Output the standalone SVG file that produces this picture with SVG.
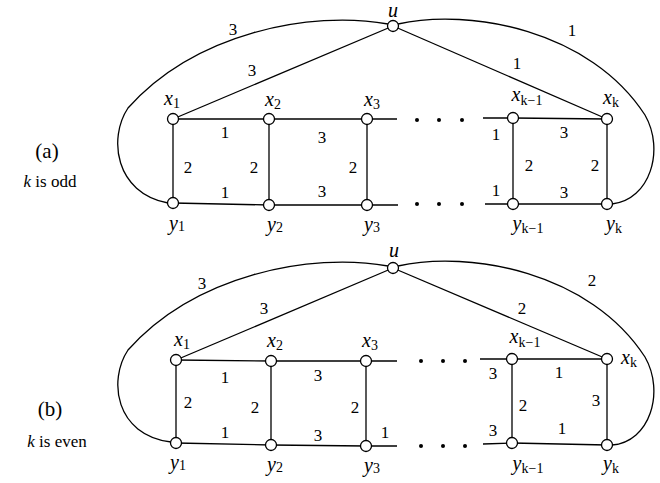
<svg xmlns="http://www.w3.org/2000/svg" width="660" height="483" viewBox="0 0 660 483" font-family="Liberation Serif, Times New Roman, serif">
<style>
.e{stroke:#000;stroke-width:1.3;fill:none}
.n{fill:#fff;stroke:#000;stroke-width:1.3}
.d{fill:#000}
.w{font-family:'Liberation Serif','Times New Roman',serif;font-size:17px;text-anchor:middle;fill:#000}
.v{font-family:'Liberation Serif','Times New Roman',serif;font-size:20px;font-style:italic;text-anchor:middle;fill:#000}
.s{font-size:14px;font-style:normal}
.c{font-family:'Liberation Serif','Times New Roman',serif;font-size:21px;text-anchor:middle;fill:#000}
.k{font-family:'Liberation Serif','Times New Roman',serif;font-size:17px;text-anchor:middle;fill:#000}
</style>
<rect width="660" height="483" fill="#fff"/>
<g id="connectors">
<path class="e" d="M388,24 C310,10 195,33 128,108 C108,138 115,193 168,203"/>
<path class="e" d="M398,24 C470,8 590,30 645,115 C665,150 650,200 612,204"/>
<line class="e" x1="393" y1="26" x2="173" y2="119"/>
<line class="e" x1="393" y1="26" x2="607" y2="119"/>
<polyline class="e" points="173,119 269,119 367,119 397,119"/>
<polyline class="e" points="483,118 513,118 607,119"/>
<polyline class="e" points="173,203 269,205 367,205 398,205"/>
<polyline class="e" points="485,204 513,204 607,204"/>
<line class="e" x1="173" y1="119" x2="173" y2="203"/>
<line class="e" x1="269" y1="119" x2="269" y2="205"/>
<line class="e" x1="367" y1="119" x2="367" y2="205"/>
<line class="e" x1="513" y1="118" x2="513" y2="204"/>
<line class="e" x1="607" y1="119" x2="607" y2="204"/>
<path class="e" d="M388,266 C310,252 195,275 128,350 C108,380 115,435 171,442"/>
<path class="e" d="M398,266 C470,250 590,272 645,357 C665,392 650,442 612,445"/>
<line class="e" x1="393" y1="268" x2="176" y2="360"/>
<line class="e" x1="393" y1="268" x2="607" y2="359"/>
<polyline class="e" points="176,360 271,361 366,361 397,361"/>
<polyline class="e" points="480,359 512,359 607,359"/>
<polyline class="e" points="176,443 271,445 366,446 397,446"/>
<polyline class="e" points="483,444 512,443 607,445"/>
<line class="e" x1="176" y1="360" x2="176" y2="443"/>
<line class="e" x1="271" y1="361" x2="271" y2="445"/>
<line class="e" x1="366" y1="361" x2="366" y2="446"/>
<line class="e" x1="512" y1="359" x2="512" y2="443"/>
<line class="e" x1="607" y1="359" x2="607" y2="445"/>
</g>
<g id="dots">
<circle class="d" cx="417" cy="120" r="2"/><circle class="d" cx="439" cy="120" r="2"/><circle class="d" cx="462" cy="120" r="2"/>
<circle class="d" cx="417" cy="204" r="2"/><circle class="d" cx="439" cy="204" r="2"/><circle class="d" cx="462" cy="204" r="2"/>
<circle class="d" cx="421" cy="361" r="2"/><circle class="d" cx="443" cy="361" r="2"/><circle class="d" cx="465" cy="361" r="2"/>
<circle class="d" cx="421" cy="446" r="2"/><circle class="d" cx="443" cy="446" r="2"/><circle class="d" cx="465" cy="446" r="2"/>
</g>
<g id="edge-labels">
<text class="w" x="233" y="35">3</text>
<text class="w" x="252" y="76">3</text>
<text class="w" x="517" y="69">1</text>
<text class="w" x="572" y="36">1</text>
<text class="w" x="225" y="138">1</text>
<text class="w" x="225" y="198">1</text>
<text class="w" x="188" y="173">2</text>
<text class="w" x="254" y="173">2</text>
<text class="w" x="322" y="143">3</text>
<text class="w" x="322" y="197">3</text>
<text class="w" x="353" y="173">2</text>
<text class="w" x="496" y="140">1</text>
<text class="w" x="496" y="196">1</text>
<text class="w" x="529" y="171">2</text>
<text class="w" x="564" y="138">3</text>
<text class="w" x="564" y="198">3</text>
<text class="w" x="595" y="171">2</text>
<text class="w" x="202" y="289">3</text>
<text class="w" x="264" y="314">3</text>
<text class="w" x="522" y="314">2</text>
<text class="w" x="592" y="286">2</text>
<text class="w" x="225" y="383">1</text>
<text class="w" x="225" y="438">1</text>
<text class="w" x="188" y="408">2</text>
<text class="w" x="255" y="413">2</text>
<text class="w" x="318" y="381">3</text>
<text class="w" x="318" y="441">3</text>
<text class="w" x="355" y="413">2</text>
<text class="w" x="385" y="438">1</text>
<text class="w" x="493" y="379">3</text>
<text class="w" x="493" y="436">3</text>
<text class="w" x="523" y="411">2</text>
<text class="w" x="559" y="378">1</text>
<text class="w" x="562" y="434">1</text>
<text class="w" x="596" y="406">3</text>
</g>
<g id="node-a-u"><circle class="n" cx="393" cy="26" r="5.5"/><text class="v" x="393" y="17" font-size="19">u</text></g>
<g id="node-a-x1"><circle class="n" cx="173" cy="119" r="5.5"/><text class="v" x="172" y="105">x<tspan class="s" dy="3">1</tspan></text></g>
<g id="node-a-x2"><circle class="n" cx="269" cy="119" r="5.5"/><text class="v" x="273" y="106">x<tspan class="s" dy="3">2</tspan></text></g>
<g id="node-a-x3"><circle class="n" cx="367" cy="119" r="5.5"/><text class="v" x="372" y="106">x<tspan class="s" dy="3">3</tspan></text></g>
<g id="node-a-xk1"><circle class="n" cx="513" cy="118" r="5.5"/><text class="v" x="527" y="101">x<tspan class="s" dy="4" font-style="italic">k</tspan><tspan class="s" dy="0">−1</tspan></text></g>
<g id="node-a-xk"><circle class="n" cx="607" cy="119" r="5.5"/><text class="v" x="611" y="104">x<tspan class="s" dy="3" font-style="italic">k</tspan></text></g>
<g id="node-a-y1"><circle class="n" cx="173" cy="203" r="5.5"/><text class="v" x="177" y="230">y<tspan class="s" dy="1">1</tspan></text></g>
<g id="node-a-y2"><circle class="n" cx="269" cy="205" r="5.5"/><text class="v" x="275" y="231">y<tspan class="s" dy="1">2</tspan></text></g>
<g id="node-a-y3"><circle class="n" cx="367" cy="205" r="5.5"/><text class="v" x="372" y="231">y<tspan class="s" dy="1">3</tspan></text></g>
<g id="node-a-yk1"><circle class="n" cx="513" cy="204" r="5.5"/><text class="v" x="528" y="230">y<tspan class="s" dy="3" font-style="italic">k</tspan><tspan class="s" dy="0">−1</tspan></text></g>
<g id="node-a-yk"><circle class="n" cx="607" cy="204" r="5.5"/><text class="v" x="614" y="230">y<tspan class="s" dy="3" font-style="italic">k</tspan></text></g>
<g id="node-b-u"><circle class="n" cx="393" cy="268" r="5.5"/><text class="v" x="394" y="257">u</text></g>
<g id="node-b-x1"><circle class="n" cx="176" cy="360" r="5.5"/><text class="v" x="182" y="346">x<tspan class="s" dy="3">1</tspan></text></g>
<g id="node-b-x2"><circle class="n" cx="271" cy="361" r="5.5"/><text class="v" x="275" y="347">x<tspan class="s" dy="3">2</tspan></text></g>
<g id="node-b-x3"><circle class="n" cx="366" cy="361" r="5.5"/><text class="v" x="370" y="347">x<tspan class="s" dy="3">3</tspan></text></g>
<g id="node-b-xk1"><circle class="n" cx="512" cy="359" r="5.5"/><text class="v" x="525" y="343">x<tspan class="s" dy="4" font-style="italic">k</tspan><tspan class="s" dy="0">−1</tspan></text></g>
<g id="node-b-xk"><circle class="n" cx="607" cy="359" r="5.5"/><text class="v" x="629" y="364">x<tspan class="s" dy="3" font-style="italic">k</tspan></text></g>
<g id="node-b-y1"><circle class="n" cx="176" cy="443" r="5.5"/><text class="v" x="178" y="469">y<tspan class="s" dy="1">1</tspan></text></g>
<g id="node-b-y2"><circle class="n" cx="271" cy="445" r="5.5"/><text class="v" x="275" y="471">y<tspan class="s" dy="1">2</tspan></text></g>
<g id="node-b-y3"><circle class="n" cx="366" cy="446" r="5.5"/><text class="v" x="372" y="472">y<tspan class="s" dy="1">3</tspan></text></g>
<g id="node-b-yk1"><circle class="n" cx="512" cy="443" r="5.5"/><text class="v" x="528" y="470">y<tspan class="s" dy="3" font-style="italic">k</tspan><tspan class="s" dy="0">−1</tspan></text></g>
<g id="node-b-yk"><circle class="n" cx="607" cy="445" r="5.5"/><text class="v" x="611" y="470">y<tspan class="s" dy="3" font-style="italic">k</tspan></text></g>
<g id="captions">
<text class="c" x="47" y="158">(a)</text>
<text class="k" x="50" y="187"><tspan font-style="italic">k</tspan> is odd</text>
<text class="c" x="50" y="416">(b)</text>
<text class="k" x="57" y="447"><tspan font-style="italic">k</tspan> is even</text>
</g>
</svg>
